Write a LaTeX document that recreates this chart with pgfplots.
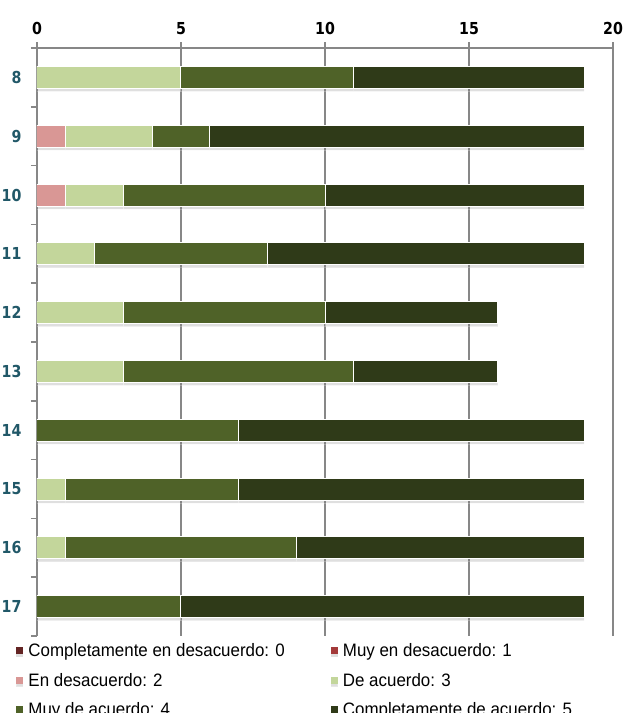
\documentclass[border=0pt]{standalone}
\usepackage{pgfplots}
\pgfplotsset{compat=1.18}
\usepackage{fontspec}
\setmainfont{DejaVu Sans}
\newfontfamily\tickfont[FakeStretch=0.86]{DejaVu Sans}
\newfontfamily\legfont[FakeStretch=0.94]{Liberation Sans}
\usetikzlibrary{shadows}

\definecolor{c0}{HTML}{632423}
\definecolor{c1}{HTML}{A33A3A}
\definecolor{c2}{HTML}{D99795}
\definecolor{c3}{HTML}{C3D69B}
\definecolor{c4}{HTML}{4F6228}
\definecolor{c5}{HTML}{2F3A18}
\definecolor{ylab}{HTML}{215868}
\definecolor{axgray}{HTML}{878787}

% question, then counts per answer level 0..5
\pgfplotstableread{
q  a0 a1 a2 a3 a4 a5
8  0  0  0  5  6  8
9  0  0  1  3  2  13
10 0  0  1  2  7  9
11 0  0  0  2  6  11
12 0  0  0  3  7  6
13 0  0  0  3  8  5
14 0  0  0  0  7  12
15 0  0  0  1  6  12
16 0  0  0  1  8  10
17 0  0  0  0  5  14
}\datatable

\begin{document}
\begin{tikzpicture}
\path[use as bounding box] (-37pt,-77pt) rectangle (587pt,636pt);
\begin{axis}[
  scale only axis,
  width=576pt, height=588pt,
  xbar stacked, bar width=22pt,
  xmin=0, xmax=20,
  ymin=7.5, ymax=17.5,
  y dir=reverse,
  axis x line*=top, axis y line*=left,
  axis line style={axgray, line width=1.5pt},
  xtick={0,5,10,15,20},
  ytick={8,...,17},
  minor xtick={0,5,10,15,20},
  minor ytick={7.5,8.5,...,17.5},
  major tick length=0pt,
  minor tick length=6pt,
  tick align=outside,
  every minor tick/.style={axgray, line width=1.5pt},
  xmajorgrids,
  grid style={axgray, line width=1.5pt},
  /pgf/number format/assume math mode=true,
  xticklabel style={font=\tickfont\fontsize{16.5}{16.5}\selectfont\bfseries, text=black, yshift=10pt},
  yticklabel style={font=\tickfont\fontsize{16.5}{16.5}\selectfont\bfseries, text=ylab, xshift=-12pt},
  every axis plot/.append style={draw=white, line width=1pt,
    drop shadow={shadow xshift=0pt, shadow yshift=-3pt, opacity=0.25, fill=gray}},
  legend columns=2,
  legend style={draw=none, fill=none, at={(-0.036,-0.009)}, anchor=north west,
    font=\legfont\fontsize{18}{18}\selectfont,
    /tikz/every even column/.append style={column sep=41pt},
    /tikz/every odd column/.append style={column sep=0pt},
    row sep=11pt, inner sep=0pt,
    nodes={inner xsep=5pt}},
  legend cell align=left,
  legend image code/.code={\fill[#1, draw=none] (0pt,-3.5pt) rectangle (7pt,3.5pt);},
]
\addplot[fill=c0, draw=none, drop shadow={opacity=0}] table[x=a0, y=q] {\datatable};
\addplot[fill=c1, draw=none, drop shadow={opacity=0}] table[x=a1, y=q] {\datatable};
\addplot[fill=c2] table[x=a2, y=q] {\datatable};
\addplot[fill=c3] table[x=a3, y=q] {\datatable};
\addplot[fill=c4] table[x=a4, y=q] {\datatable};
\addplot[fill=c5] table[x=a5, y=q] {\datatable};
\legend{Completamente en desacuerdo: 0, Muy en desacuerdo: 1,
  En desacuerdo: 2, De acuerdo: 3,
  Muy de acuerdo: 4, Completamente de acuerdo: 5}
\end{axis}
\end{tikzpicture}
\end{document}
